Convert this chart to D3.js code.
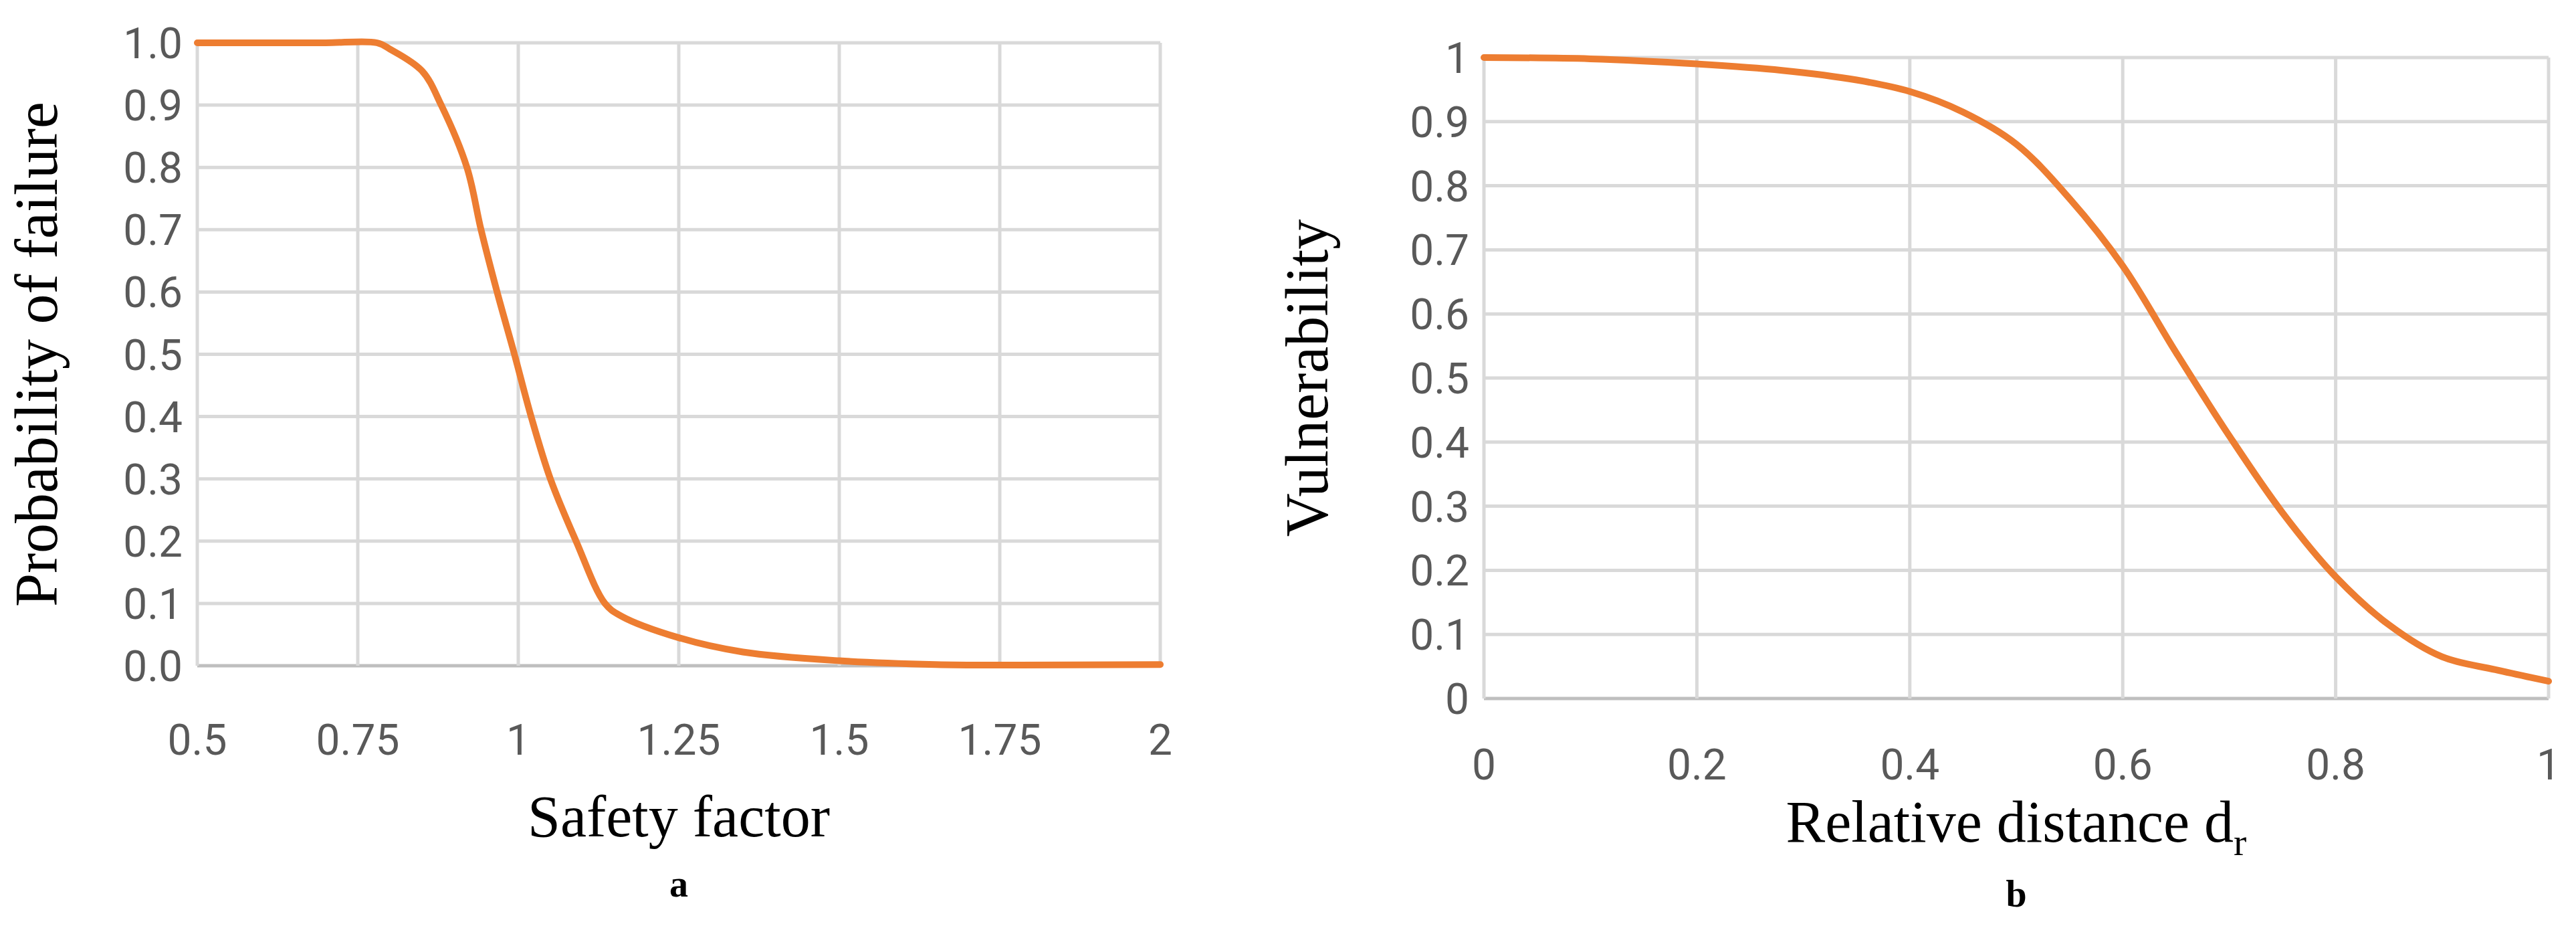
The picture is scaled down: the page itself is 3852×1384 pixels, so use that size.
<!DOCTYPE html>
<html><head><meta charset="utf-8">
<script src="https://cdn.jsdelivr.net/npm/d3@7"></script>
<style>body{margin:0;background:#fff}</style></head>
<body><svg id="c" width="3852" height="1384"></svg>
<script>
const sfX = [0.5,0.6,0.7,0.78,0.8,0.85,0.88,0.92,0.942,0.967,0.994,1.02,1.05,1.09,1.135,1.16,1.25,1.35,1.5,1.65,1.75,2.0];
const sfY = [1.0,1.0,1.0,1.0,0.99,0.955,0.9,0.8,0.7,0.6,0.5,0.4,0.3,0.2,0.1,0.08,0.045,0.022,0.008,0.002,0.001,0.002];
const drX = [0,0.1,0.2,0.28,0.35,0.4,0.45,0.5,0.55,0.6,0.65,0.7,0.75,0.8,0.85,0.9,0.95,1.0];
const drY = [1.0,0.998,0.99,0.98,0.965,0.947,0.915,0.865,0.78,0.675,0.54,0.41,0.29,0.19,0.115,0.065,0.045,0.027];
const ticksAX = [0.5,0.75,1,1.25,1.5,1.75,2];
const ticksAY = [0,0.1,0.2,0.3,0.4,0.5,0.6,0.7,0.8,0.9,1.0];
const ticksBX = [0,0.2,0.4,0.6,0.8,1];
const ticksBY = [0,0.1,0.2,0.3,0.4,0.5,0.6,0.7,0.8,0.9,1];

const svg = d3.select("#c");
const tickFont = "Liberation Sans Narrow, Roboto, Liberation Sans";
function panel(o){
  const x = d3.scaleLinear().domain(o.xd).range([o.l,o.r]);
  const y = d3.scaleLinear().domain([0,1]).range([o.b,o.t]);
  const g = svg.append("g");
  g.selectAll(".gy").data(o.ty).join("line").attr("x1",o.l).attr("x2",o.r)
    .attr("y1",d=>y(d)).attr("y2",d=>y(d)).attr("stroke",d=>d===0?"#BFBFBF":"#D9D9D9").attr("stroke-width",5);
  g.selectAll(".gx").data(o.tx).join("line").attr("y1",o.t).attr("y2",o.b)
    .attr("x1",d=>x(d)).attr("x2",d=>x(d)).attr("stroke","#D9D9D9").attr("stroke-width",5);
  g.selectAll(".ly").data(o.ty).join("text").attr("x",o.l-22).attr("y",d=>y(d)).attr("dy","0.36em")
    .attr("text-anchor","end").attr("font-family",tickFont).attr("font-size",64)
    .attr("fill","#595959").text(o.fy);
  g.selectAll(".lx").data(o.tx).join("text").attr("x",d=>x(d)).attr("y",o.xly)
    .attr("text-anchor","middle").attr("font-family",tickFont).attr("font-size",64)
    .attr("fill","#595959").text(o.fx);
  g.append("path").datum(d3.zip(o.dx,o.dy)).attr("fill","none").attr("stroke","#ED7D31").attr("stroke-width",10)
    .attr("stroke-linecap","round").attr("d",d3.line().x(d=>x(d[0])).y(d=>y(d[1])).curve(d3.curveCatmullRom.alpha(0.5)));
  g.append("text").attr("transform",`translate(${o.ytx},${(o.t+o.b)/2}) rotate(-90)`).attr("text-anchor","middle")
    .attr("font-family","Liberation Serif").attr("font-size",90).attr("fill","#000").text(o.yt);
  const xt = g.append("text").attr("x",(o.l+o.r)/2).attr("y",o.xty).attr("text-anchor","middle")
    .attr("font-family","Liberation Serif").attr("font-size",88).attr("fill","#000").text(o.xt);
  if(o.sub) xt.append("tspan").attr("font-size",58).attr("dy",20).text(o.sub);
  g.append("text").attr("x",(o.l+o.r)/2).attr("y",o.lety).attr("text-anchor","middle")
    .attr("font-family","Liberation Serif").attr("font-weight","bold").attr("font-size",56).text(o.letter);
}
panel({xd:[0.5,2],l:295,r:1735,t:64,b:995,tx:ticksAX,ty:ticksAY,fx:d=>String(d),fy:d=>d.toFixed(1),
  dx:sfX,dy:sfY,xly:1128,ytx:85,yt:"Probability of failure",xty:1250,xt:"Safety factor",lety:1340,letter:"a"});
panel({xd:[0,1],l:2219,r:3811,t:86,b:1044,tx:ticksBX,ty:ticksBY,fx:d=>String(d),fy:d=>String(d),
  dx:drX,dy:drY,xly:1165,ytx:1985,yt:"Vulnerability",xty:1258,xt:"Relative distance d",sub:"r",lety:1355,letter:"b"});
</script></body></html>
